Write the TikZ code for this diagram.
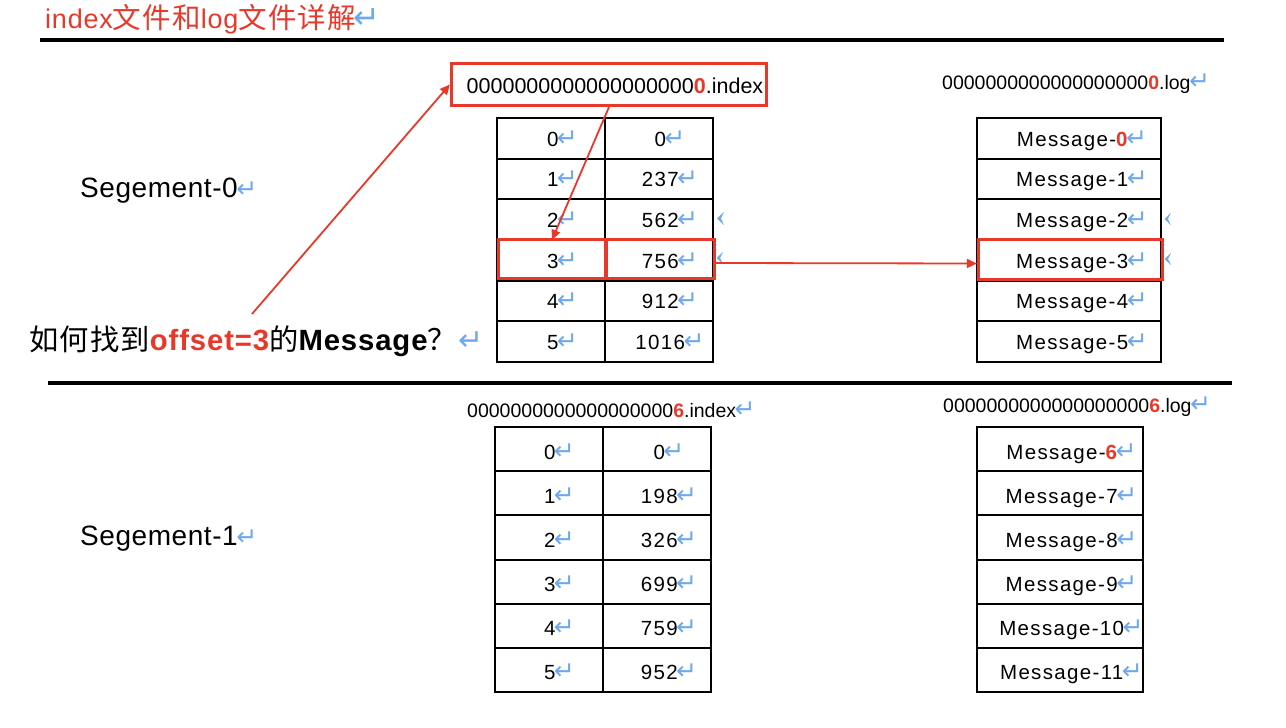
\documentclass[tikz,border=0pt]{standalone}
\usepackage{fontspec}
\setmainfont{Liberation Sans}
\newfontfamily\cjk{Noto Sans CJK SC}
\newfontfamily\cjkq{Noto Sans CJK SC}[LetterSpace=4]
\newfontfamily\sym{DejaVu Sans}
\newfontfamily\tabf{Liberation Sans}[LetterSpace=6.5]
\newfontfamily\segf{Liberation Sans}[LetterSpace=2]
\newfontfamily\qf{Liberation Sans}[LetterSpace=3]
\newfontfamily\ttlf{Liberation Sans}[LetterSpace=3]
\usetikzlibrary{arrows.meta,calc}
\definecolor{kred}{RGB}{232,56,42}
\definecolor{kblue}{RGB}{110,168,240}
\newcommand{\pmk}{\hspace{0.5pt}\makebox[14pt][l]{\sym\color{kblue}\fontsize{25}{25}\selectfont\hspace{-2pt}↵}}
\newcommand{\pmkbig}{\makebox[18pt][l]{\sym\color{kblue}\fontsize{32}{32}\selectfont\hspace{-2pt}↵}}
\newcommand{\rz}[1]{\textcolor{kred}{\bfseries #1}}
\begin{document}
\begin{tikzpicture}[x=1pt,y=-1pt,
  cell/.style={draw=black, line width=2pt, inner sep=0pt},
  redbox/.style={draw=kred, line width=3.2pt, inner sep=0pt},
  tt/.style={anchor=base, inner sep=0pt, font=\tabf\fontsize{20.5}{24}\selectfont},
  fname/.style={anchor=base west, inner sep=0pt, font=\fontsize{19.5}{23}\selectfont},
  rarrow/.style={draw=kred, line width=1.8pt, -{Triangle[length=10pt,width=9pt]}},
  chev/.style={fill=kblue, draw=none}]
\useasboundingbox (0,0) rectangle (1286,728);

% title and separators
\node[anchor=base west, inner sep=0pt, text=kred, font=\ttlf\fontsize{27}{30}\selectfont] (title) at (45,28.5)
  {index{\cjkq\fontsize{28.5}{30}\selectfont 文件和}log{\cjkq\fontsize{28.5}{30}\selectfont 文件详解}\pmkbig};
\coordinate (l1a) at (40,39.5); \coordinate (l1b) at (1224,39.5);
\coordinate (l2a) at (48,383); \coordinate (l2b) at (1232,383);
\draw[line width=4pt] (l1a) -- (l1b);
\draw[line width=4pt] (l2a) -- (l2b);

% segment labels
\node[anchor=base west, inner sep=0pt, font=\segf\fontsize{28}{32}\selectfont] (seg0) at (80,197.7) {Segement-0\pmk};
\node[anchor=base west, inner sep=0pt, font=\segf\fontsize{28}{32}\selectfont] (seg1) at (80,545) {Segement-1\pmk};

% question
\node[anchor=base west, inner sep=0pt, font=\qf\fontsize{29.3}{32}\selectfont] (q) at (29,350)
  {{\cjkq 如何找到}\textcolor{kred}{\bfseries offset=3}{\cjkq 的}{\bfseries Message}{\cjkq ？}\hspace{2pt}{\sym\color{kblue}\fontsize{30}{30}\selectfont ↵}};

% ---------- Segment 0 ----------
\node[redbox, minimum width=315pt, minimum height=42pt] (ixn) at (609,84.5) {};
\node[anchor=base west, inner sep=0pt, font=\fontsize{21.5}{25}\selectfont] (ixt) at (466.5,93.3)
  {0000000000000000000\rz{0}.index};
\node[fname] (lgt) at (942,89.3) {0000000000000000000\rz{0}.log\pmk};

\foreach \i/\a/\b in {0/0/0,1/1/237,2/2/562,3/3/756,4/4/912,5/5/1016}{
  \node[cell, minimum width=108pt, minimum height=40.67pt] (ia\i) at (551,{138.33+40.67*\i}) {};
  \node[cell, minimum width=108pt, minimum height=40.67pt] (ib\i) at (659,{138.33+40.67*\i}) {};
  \node[tt] (tia\i) at (560,{146+40.67*\i}) {\a\pmk};
  \node[tt] (tib\i) at (667.5,{146+40.67*\i}) {\b\pmk};
}
\foreach \i/\n in {0/\rz{0},1/1,2/2,3/3,4/4,5/5}{
  \node[cell, minimum width=184pt, minimum height=40.67pt] (m\i) at (1069,{138.33+40.67*\i}) {};
  \node[tt] (tm\i) at (1079.5,{146+40.67*\i}) {Message-\n\pmk};
}

% blue tab marks
\fill[chev] (724,212) -- (717,218.5) -- (724,225) -- (721,218.5) -- cycle;
\fill[chev] (723,252) -- (716.5,258) -- (723,264) -- (720,258) -- cycle;
\fill[chev] (1171,212.5) -- (1164.5,219) -- (1171,225.5) -- (1168,219) -- cycle;
\fill[chev] (1171,253) -- (1164.5,259) -- (1171,265) -- (1168,259) -- cycle;

% highlight boxes
\node[redbox, minimum width=107pt, minimum height=39pt] (h3a) at (552,259) {};
\node[redbox, minimum width=108pt, minimum height=39pt] (h3b) at (660.5,259) {};
\node[redbox, minimum width=184pt, minimum height=40pt] (hm3) at (1070.5,259.5) {};

% arrows
\coordinate (qs) at (252,314);
\draw[rarrow] (qs) -- (ixn.west);
\draw[rarrow] (ixn.south) -- ([yshift=-2pt]h3a.north);
\draw[rarrow] ([yshift=-4pt]h3b.east) -- ([yshift=-4pt]hm3.west);

% ---------- Segment 1 ----------
\node[fname] (ixt1) at (467,417.3) {0000000000000000000\rz{6}.index\pmk};
\node[fname] (lgt1) at (943,412.7) {0000000000000000000\rz{6}.log\pmk};

\foreach \i/\a/\b in {0/0/0,1/1/198,2/2/326,3/3/699,4/4/759,5/5/952}{
  \node[cell, minimum width=108pt, minimum height=44.17pt] (ja\i) at (549,{449.08+44.17*\i}) {};
  \node[cell, minimum width=108pt, minimum height=44.17pt] (jb\i) at (657,{449.08+44.17*\i}) {};
  \node[tt] (tja\i) at (557,{459.1+44.17*\i}) {\a\pmk};
  \node[tt] (tjb\i) at (666.5,{459.1+44.17*\i}) {\b\pmk};
}
\foreach \i/\n in {0/\rz{6},1/7,2/8,3/9,4/10,5/11}{
  \node[cell, minimum width=166pt, minimum height=44.17pt] (n\i) at (1060,{449.08+44.17*\i}) {};
  \node[tt] (tn\i) at (1069,{459.1+44.17*\i}) {Message-\n\pmk};
}
\end{tikzpicture}
\end{document}
